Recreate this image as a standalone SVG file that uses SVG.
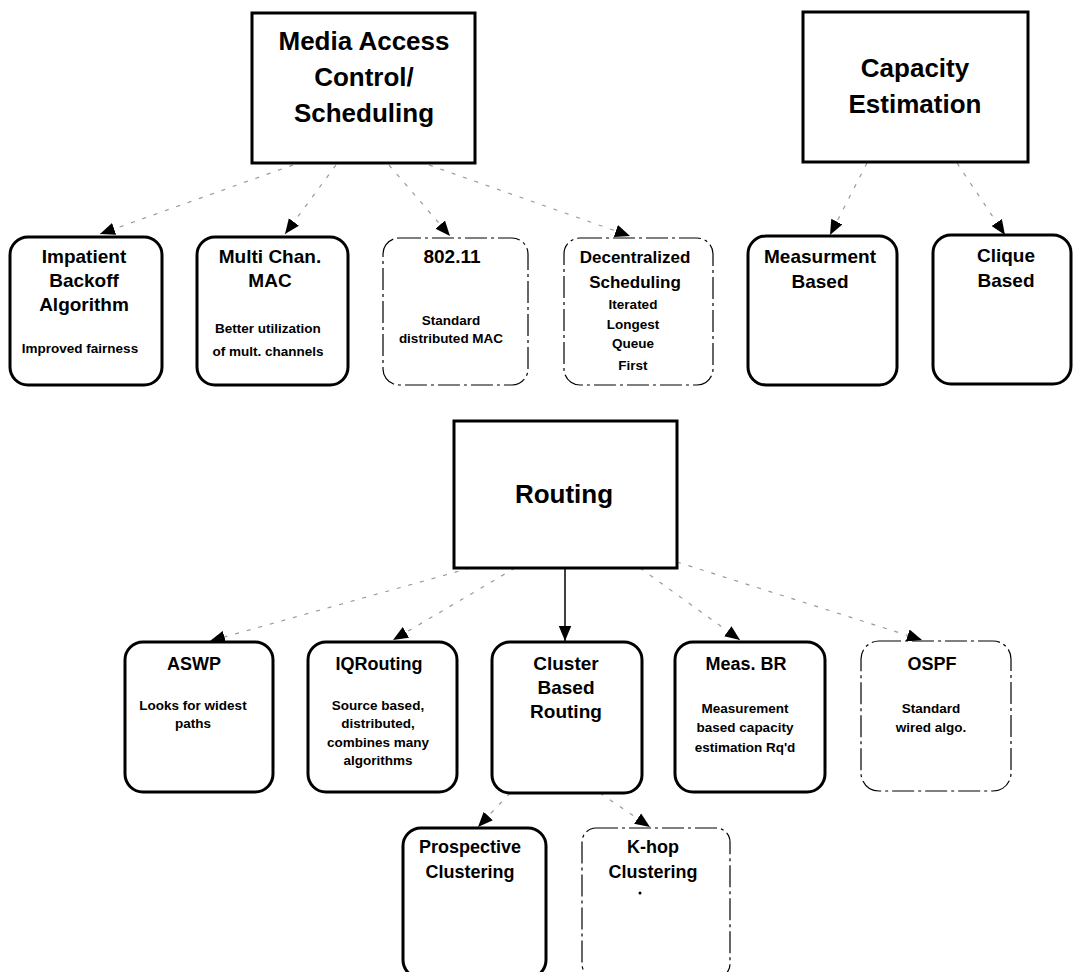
<svg xmlns="http://www.w3.org/2000/svg" width="1073" height="972" viewBox="0 0 1073 972">
<style>
text{font-family:"Liberation Sans",Arial,sans-serif;font-weight:bold;fill:#000;text-anchor:middle}
.big{font-size:26px}
.ttl{font-size:19px}
.ttl2{font-size:18px}
.body{font-size:13.5px}
.sq{fill:#fff;stroke:#000;stroke-width:3}
.thick{fill:#fff;stroke:#000;stroke-width:3}
.thin{fill:#fff;stroke:#000;stroke-width:1.2;stroke-dasharray:22 4 3 4}
.faint{fill:none;stroke:#999;stroke-width:1.2;stroke-dasharray:4 8}
.solid{fill:none;stroke:#000;stroke-width:1.5}
</style>
<defs>
<marker id="ah" viewBox="0 0 12 10" refX="12" refY="5" markerWidth="15" markerHeight="13" markerUnits="userSpaceOnUse" orient="auto">
<path d="M0,0 L12,5 L0,10 z" fill="#000"/>
</marker>
</defs>
<rect width="1073" height="972" fill="#fff"/>

<g id="connectors">
<path class="faint" d="M293,165 L100,234" marker-end="url(#ah)"/>
<path class="faint" d="M336,165 L285,234" marker-end="url(#ah)"/>
<path class="faint" d="M389,165 L450,236" marker-end="url(#ah)"/>
<path class="faint" d="M429,165 L630,236" marker-end="url(#ah)"/>
<path class="faint" d="M867,163 L830,235" marker-end="url(#ah)"/>
<path class="faint" d="M957,163 L1005,235" marker-end="url(#ah)"/>
<path class="faint" d="M470,568 L210,641" marker-end="url(#ah)"/>
<path class="faint" d="M515,568 L393,640" marker-end="url(#ah)"/>
<path class="solid" d="M565,568 L565,641" marker-end="url(#ah)"/>
<path class="faint" d="M640,568 L740,640" marker-end="url(#ah)"/>
<path class="faint" d="M677,562 L922,640" marker-end="url(#ah)"/>
<path class="faint" d="M510,793 L478,827" marker-end="url(#ah)"/>
<path class="faint" d="M600,793 L650,827" marker-end="url(#ah)"/>
</g>

<g id="mac">
<rect class="sq" x="252" y="13" width="223" height="150"/>
<text class="big" x="364" y="50">Media Access</text>
<text class="big" x="364" y="86">Control/</text>
<text class="big" x="364" y="122">Scheduling</text>
</g>

<g id="capacity">
<rect class="sq" x="803" y="12" width="225" height="150"/>
<text class="big" x="915" y="77">Capacity</text>
<text class="big" x="915" y="113">Estimation</text>
</g>

<g id="impatient">
<rect class="thick" x="10" y="237" width="152" height="148" rx="18"/>
<text class="ttl" x="84" y="263">Impatient</text>
<text class="ttl" x="84" y="287">Backoff</text>
<text class="ttl" x="84" y="311">Algorithm</text>
<text class="body" x="80" y="353">Improved fairness</text>
</g>

<g id="multichan">
<rect class="thick" x="197" y="237" width="151" height="148" rx="18"/>
<text class="ttl" x="270" y="263">Multi Chan.</text>
<text class="ttl" x="270" y="287">MAC</text>
<text class="body" x="268" y="333">Better utilization</text>
<text class="body" x="268" y="356">of mult. channels</text>
</g>

<g id="ieee80211">
<rect class="thin" x="383" y="238" width="145" height="147" rx="16"/>
<text class="ttl" x="452" y="263">802.11</text>
<text class="body" x="451" y="325">Standard</text>
<text class="body" x="451" y="343">distributed MAC</text>
</g>

<g id="decentralized">
<rect class="thin" x="564" y="238" width="149" height="147" rx="16"/>
<text class="ttl" x="635" y="263" style="font-size:17px">Decentralized</text>
<text class="ttl" x="635" y="288" style="font-size:17px">Scheduling</text>
<text class="body" x="633" y="309">Iterated</text>
<text class="body" x="633" y="329">Longest</text>
<text class="body" x="633" y="348">Queue</text>
<text class="body" x="633" y="370">First</text>
</g>

<g id="measurment">
<rect class="thick" x="748" y="236" width="149" height="149" rx="18"/>
<text class="ttl" x="820" y="263">Measurment</text>
<text class="ttl" x="820" y="288">Based</text>
</g>

<g id="clique">
<rect class="thick" x="933" y="235" width="138" height="149" rx="18"/>
<text class="ttl" x="1006" y="262">Clique</text>
<text class="ttl" x="1006" y="287">Based</text>
</g>

<g id="routing">
<rect class="sq" x="454" y="421" width="223" height="147"/>
<text class="big" x="564" y="503">Routing</text>
</g>

<g id="aswp">
<rect class="thick" x="125" y="642" width="148" height="150" rx="18"/>
<text class="ttl2" x="194" y="670">ASWP</text>
<text class="body" x="193" y="710">Looks for widest</text>
<text class="body" x="193" y="728">paths</text>
</g>

<g id="iqrouting">
<rect class="thick" x="308" y="642" width="149" height="150" rx="18"/>
<text class="ttl2" x="379" y="670">IQRouting</text>
<text class="body" x="378" y="710">Source based,</text>
<text class="body" x="378" y="728">distributed,</text>
<text class="body" x="378" y="747">combines many</text>
<text class="body" x="378" y="765">algorithms</text>
</g>

<g id="cluster">
<rect class="thick" x="492" y="642" width="150" height="151" rx="18"/>
<text class="ttl" x="566" y="670">Cluster</text>
<text class="ttl" x="566" y="694">Based</text>
<text class="ttl" x="566" y="718">Routing</text>
</g>

<g id="measbr">
<rect class="thick" x="675" y="642" width="150" height="150" rx="18"/>
<text class="ttl2" x="746" y="670">Meas. BR</text>
<text class="body" x="745" y="713">Measurement</text>
<text class="body" x="745" y="732">based capacity</text>
<text class="body" x="745" y="752">estimation Rq'd</text>
</g>

<g id="ospf">
<rect class="thin" x="861" y="641" width="150" height="150" rx="18"/>
<text class="ttl2" x="932" y="670">OSPF</text>
<text class="body" x="931" y="713">Standard</text>
<text class="body" x="931" y="732">wired algo.</text>
</g>

<g id="prospective">
<rect class="thick" x="403" y="828" width="143" height="150" rx="18"/>
<text class="ttl2" x="470" y="853">Prospective</text>
<text class="ttl2" x="470" y="878">Clustering</text>
</g>

<g id="khop">
<rect class="thin" x="582" y="828" width="148" height="150" rx="14"/>
<text class="ttl2" x="653" y="853">K-hop</text>
<text class="ttl2" x="653" y="878">Clustering</text>
<circle cx="640" cy="893" r="1.5" fill="#000"/>
</g>
</svg>
